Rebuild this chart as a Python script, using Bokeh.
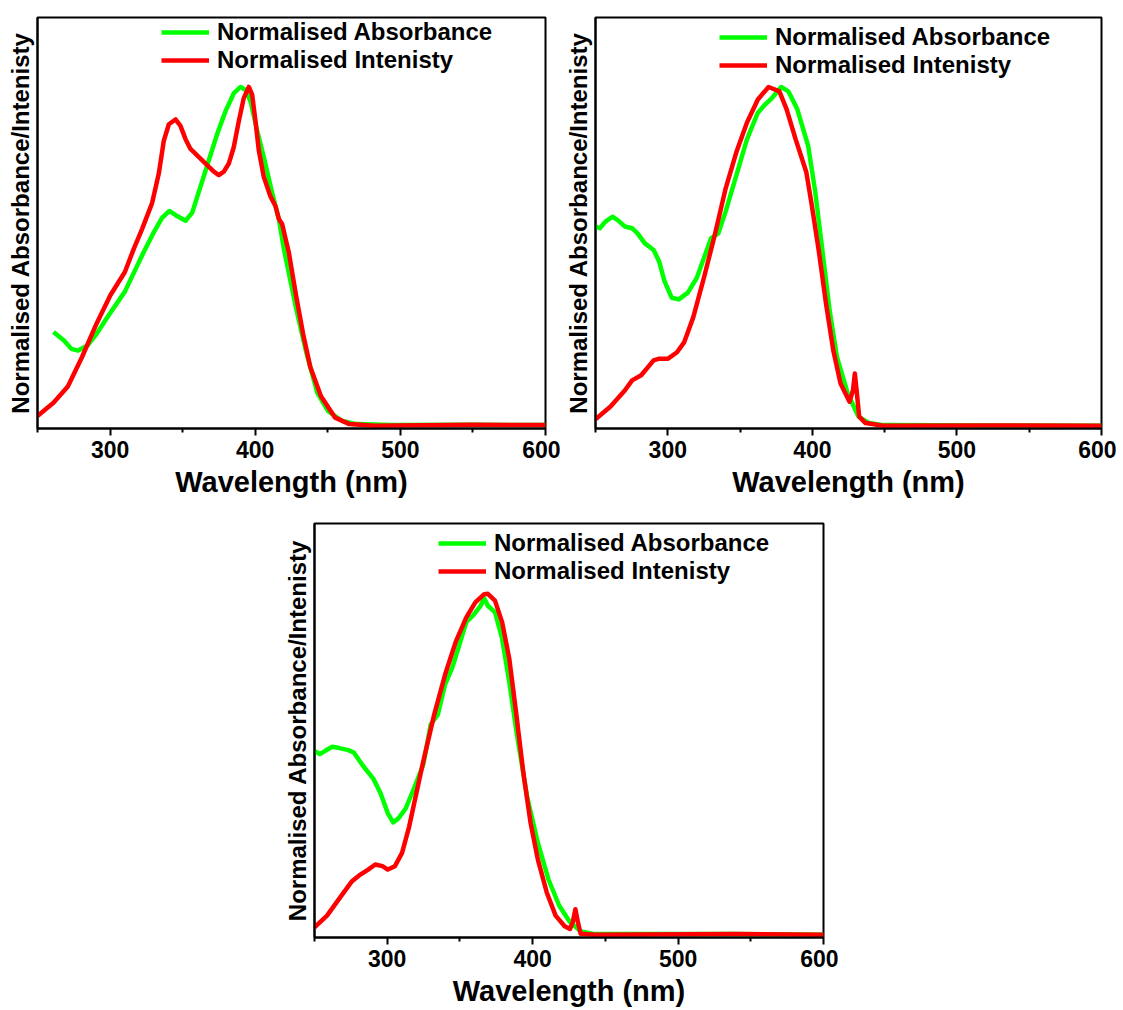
from bokeh.plotting import figure
from bokeh.layouts import column, row
from bokeh.models import FixedTicker, Range1d, Spacer
from bokeh.embed import file_html
from bokeh.resources import INLINE

# ---------------- data ----------------
x_ticks = [300, 400, 500, 600]
x_minor = [250, 350, 450, 550]
series_names = ["Normalised Absorbance", "Normalised Intenisty"]
y_label = "Normalised Absorbance/Intenisty"
x_label = "Wavelength (nm)"

# Panel 1
abs1_x = [261, 268.4, 273.3, 278, 284.4, 290.5, 297.9, 310.2, 323.2, 330.1, 335.9, 340.9,
          346.2, 352, 356.6, 362.3, 368, 373.8, 379.5, 385.3, 389.9, 393.3, 396.8, 401.4,
          405.9, 411.7, 416.3, 419.7, 428.1, 435.4, 442.8, 450.2, 460, 469.8, 494, 550, 600]
abs1_y = [0.277, 0.251, 0.227, 0.222, 0.237, 0.27, 0.319, 0.396, 0.513, 0.571, 0.614, 0.634,
          0.619, 0.605, 0.629, 0.706, 0.783, 0.861, 0.928, 0.982, 1.0, 0.991, 0.957, 0.87,
          0.793, 0.687, 0.61, 0.523, 0.348, 0.213, 0.097, 0.043, 0.014, 0.005, 0.002, 0.003,
          0.002]
int1_x = [250, 261, 270.9, 280.7, 290.5, 300.3, 310.2, 316.4, 322.1, 329, 333.6, 337, 340.5,
          345.1, 348.5, 352, 355.4, 360, 365.8, 371.5, 374.9, 378.4, 381.8, 385.2, 388.7,
          392.1, 395.6, 397.9, 400.2, 402.5, 405.9, 410.5, 414, 416.3, 418.6, 420.9, 423.1,
          428.1, 433, 437.9, 445.3, 455.1, 464.9, 482, 550, 600]
int1_y = [0.029, 0.068, 0.116, 0.203, 0.3, 0.386, 0.454, 0.523, 0.581, 0.658, 0.745, 0.841,
          0.89, 0.904, 0.885, 0.846, 0.817, 0.798, 0.774, 0.75, 0.74, 0.75, 0.774, 0.822,
          0.899, 0.967, 1.0, 0.977, 0.899, 0.812, 0.735, 0.677, 0.648, 0.61, 0.595, 0.552,
          0.513, 0.386, 0.271, 0.174, 0.087, 0.024, 0.005, 0.0, 0.003, 0.002]

# Panel 2
abs2_x = [250, 253, 256.7, 261.7, 265.4, 270.4, 275.3, 279.1, 284, 290.2, 294, 297.7, 302.7,
          307.6, 313.9, 320.1, 325, 330, 335, 340, 347.4, 354.8, 362.3, 367.3, 372.2, 378.4,
          383.4, 389.6, 397.1, 402, 407, 412, 417, 424.4, 431.9, 439.3, 449.2, 520, 600]
abs2_y = [0.588, 0.583, 0.602, 0.617, 0.607, 0.588, 0.583, 0.568, 0.539, 0.519, 0.485, 0.427,
          0.378, 0.373, 0.393, 0.437, 0.495, 0.554, 0.568, 0.632, 0.739, 0.846, 0.924, 0.948,
          0.968, 1.0, 0.987, 0.934, 0.826, 0.69, 0.515, 0.339, 0.203, 0.096, 0.027, 0.008,
          0.002, 0.001, 0.0]
int2_x = [250, 260.4, 270.4, 275.3, 281.6, 290.2, 294, 300.2, 306.4, 311.4, 317.6, 325, 332.5,
          340, 347.4, 354.8, 362.3, 369.7, 377.2, 382.2, 388.4, 395.8, 399.6, 404.5, 409.5,
          414.5, 419.5, 425.7, 428.1, 429.4, 430.6, 432.4, 436.8, 449.2, 520, 600]
int2_y = [0.019, 0.057, 0.105, 0.134, 0.149, 0.193, 0.198, 0.198, 0.217, 0.247, 0.32, 0.437,
          0.563, 0.7, 0.807, 0.895, 0.963, 1.0, 0.987, 0.934, 0.846, 0.749, 0.651, 0.515,
          0.359, 0.222, 0.125, 0.071, 0.105, 0.154, 0.105, 0.027, 0.008, 0.0, 0.001, 0.0]

# Panel 3
abs3_x = [250, 253.7, 257.4, 262.3, 267.2, 273.3, 277, 283.2, 290.5, 295.5, 300.4, 304.1,
          307.7, 312.7, 318.8, 324.9, 329.9, 334.8, 339.7, 344.6, 349.5, 354.4, 359.3, 364.2,
          366.7, 369.2, 374.1, 379, 383.9, 388.8, 396.2, 403.6, 410.9, 418.3, 425.7, 433,
          442.9, 540, 600]
abs3_y = [0.539, 0.529, 0.539, 0.551, 0.547, 0.541, 0.534, 0.496, 0.457, 0.414, 0.356, 0.329,
          0.341, 0.37, 0.433, 0.5, 0.616, 0.645, 0.732, 0.781, 0.848, 0.916, 0.937, 0.964,
          0.986, 0.964, 0.945, 0.868, 0.742, 0.597, 0.404, 0.269, 0.162, 0.085, 0.037, 0.01,
          0.002, 0.002, 0.0]
int3_x = [250, 258.6, 268.4, 275.8, 280.7, 286.9, 291.8, 296.7, 300.4, 305.3, 310.2, 315.1,
          320, 324.9, 332.3, 339.7, 347.1, 354.4, 360.6, 366.7, 369.2, 374.1, 379, 383.9,
          388.8, 393.7, 398.6, 403.6, 409.7, 415.8, 422, 425.7, 427.6, 429.4, 431.1, 433,
          442.9, 540, 600]
int3_y = [0.022, 0.056, 0.114, 0.157, 0.174, 0.191, 0.206, 0.201, 0.191, 0.201, 0.24, 0.317,
          0.414, 0.51, 0.645, 0.761, 0.858, 0.93, 0.974, 0.998, 0.999, 0.979, 0.916, 0.81,
          0.645, 0.472, 0.327, 0.22, 0.124, 0.056, 0.025, 0.017, 0.037, 0.075, 0.037, 0.003,
          0.0, 0.002, 0.0]

GREEN = "#00ff00"
RED = "#ff0000"
FONT = "Liberation Sans"


def make_panel(ax, ay, ix, iy, width, height, b_left, b_top, b_right, b_bottom):
    p = figure(width=width, height=height, output_backend="svg", toolbar_location=None,
               x_range=Range1d(250, 600), y_range=Range1d(-0.008, 1.205),
               min_border_left=b_left, min_border_top=b_top,
               min_border_right=b_right, min_border_bottom=b_bottom)
    p.line(ax, ay, color=GREEN, line_width=4.5, line_join="round",
           legend_label=series_names[0])
    p.line(ix, iy, color=RED, line_width=4.5, line_join="round",
           legend_label=series_names[1])
    p.xgrid.visible = False
    p.ygrid.visible = False
    p.outline_line_color = "black"
    p.outline_line_width = 2
    p.background_fill_color = "white"
    p.border_fill_color = "white"

    xa = p.xaxis[0]
    xa.ticker = FixedTicker(ticks=x_ticks, minor_ticks=x_minor)
    xa.axis_line_width = 2
    xa.major_tick_line_width = 2
    xa.minor_tick_line_width = 2
    xa.major_tick_in = 0
    xa.major_tick_out = 7
    xa.minor_tick_in = 0
    xa.minor_tick_out = 4
    xa.major_label_text_font = FONT
    xa.major_label_text_font_style = "bold"
    xa.major_label_text_font_size = "23px"
    xa.major_label_text_color = "black"
    xa.major_label_standoff = 5
    xa.axis_label = x_label
    xa.axis_label_text_font = FONT
    xa.axis_label_text_font_style = "bold"
    xa.axis_label_text_font_size = "29px"
    xa.axis_label_text_color = "black"
    xa.axis_label_standoff = 5

    ya = p.yaxis[0]
    ya.ticker = FixedTicker(ticks=[])
    ya.axis_line_width = 2
    ya.major_tick_line_color = None
    ya.minor_tick_line_color = None
    ya.axis_label = y_label
    ya.axis_label_text_font = FONT
    ya.axis_label_text_font_style = "bold"
    ya.axis_label_text_font_size = "24px"
    ya.axis_label_text_color = "black"
    ya.axis_label_standoff = 4

    lg = p.legend[0]
    lg.label_text_font = FONT
    lg.label_text_font_style = "bold"
    lg.label_text_font_size = "24px"
    lg.label_text_color = "black"
    lg.border_line_color = None
    lg.background_fill_alpha = 0
    lg.glyph_width = 48
    lg.glyph_height = 28
    lg.label_height = 28
    lg.label_standoff = 8
    lg.spacing = 0
    lg.padding = 0
    lg.margin = 0
    frame_h = height - b_top - b_bottom
    lg.location = (124, frame_h - 6 - 56)
    return p


p1 = make_panel(abs1_x, abs1_y, int1_x, int1_y, 560, 502, 37, 12, 15, 74)
p2 = make_panel(abs2_x, abs2_y, int2_x, int2_y, 556, 502, 35, 17, 15, 74)
p3 = make_panel(abs3_x, abs3_y, int3_x, int3_y, 558, 507, 34, 21, 15, 72)

layout = column(row(p1, p2), row(Spacer(width=280, height=10), p3))

open("out.html", "w").write(file_html(layout, INLINE))
